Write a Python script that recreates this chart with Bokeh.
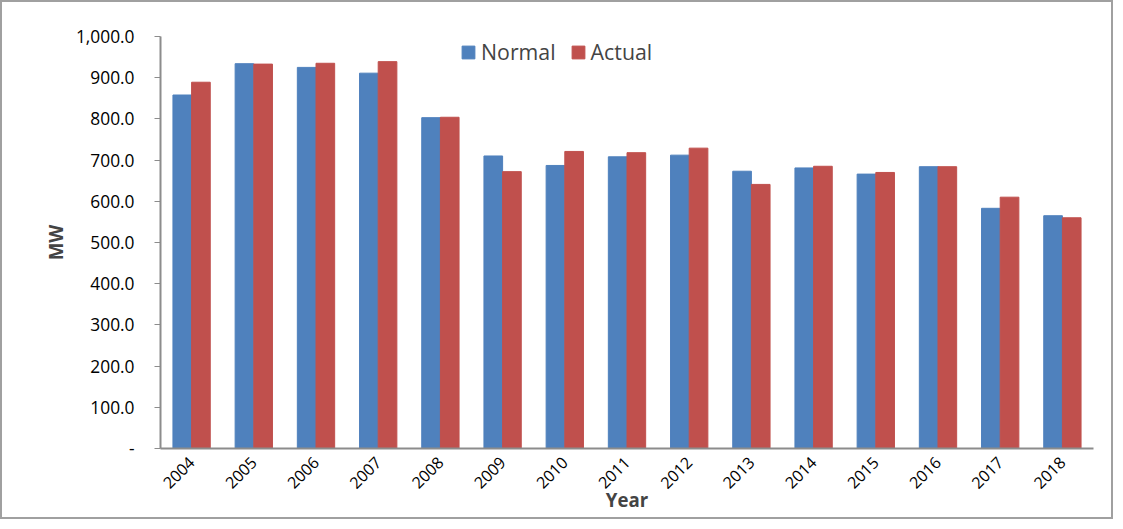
from math import pi
from bokeh.plotting import figure
from bokeh.models import ColumnDataSource, NumeralTickFormatter, Range1d, Legend
from bokeh.transform import dodge
from bokeh.embed import file_html
from bokeh.resources import INLINE

years = [str(y) for y in range(2004, 2019)]
normal = [858, 934, 925, 911, 803, 710, 687, 708, 712, 673, 681, 666, 684, 583, 565]
actual = [889, 933, 935, 939, 804, 672, 721, 718, 729, 641, 685, 670, 684, 610, 560]

src = ColumnDataSource(dict(year=years, normal=normal, actual=actual))

FONT = "Open Sans"

p = figure(x_range=years, width=1113, height=519, output_backend="svg",
           toolbar_location=None, y_range=Range1d(0, 1000),
           styles={"border": "2px solid #a0a0a0"})
p.min_border_top = 34
p.min_border_left = 158
p.min_border_right = 22
p.min_border_bottom = 73
p.outline_line_color = None
p.xgrid.grid_line_color = None
p.ygrid.grid_line_color = None
p.x_range.range_padding = 0.0

r1 = p.vbar(x=dodge("year", -0.15, range=p.x_range), top="normal", width=0.3,
            source=src, color="#4f81bd")
r2 = p.vbar(x=dodge("year", 0.15, range=p.x_range), top="actual", width=0.3,
            source=src, color="#c0504d")

legend = Legend(items=[("Normal", [r1]), ("Actual", [r2])], orientation="horizontal",
                location=(300, 382), border_line_color=None, background_fill_alpha=0,
                label_text_font=FONT, label_text_font_size="16pt",
                glyph_width=16, glyph_height=16, spacing=14, padding=0)
p.add_layout(legend, "center")

p.yaxis.ticker = list(range(0, 1001, 100))
p.yaxis.formatter = NumeralTickFormatter(format="0,0.0")
p.yaxis.major_label_overrides = {0: "-"}
p.yaxis.axis_label = "MW"
p.xaxis.axis_label = "Year"
for ax in (p.xaxis, p.yaxis):
    ax.axis_line_color = "#8c8c8c"
    ax.axis_line_width = 2
    ax.major_tick_line_color = "#8c8c8c"
    ax.minor_tick_line_color = None
    ax.major_label_text_font = FONT
    ax.major_label_text_font_size = "13pt"
    ax.major_label_text_color = "black"
    ax.axis_label_text_font = FONT
    ax.axis_label_text_font_style = "bold"
    ax.axis_label_text_font_size = "14pt"
p.yaxis.major_tick_in = 0
p.yaxis.major_tick_out = 6
p.yaxis.major_label_standoff = 20
p.xaxis.major_tick_line_color = None
p.xaxis.major_label_orientation = pi / 4
p.xaxis.major_label_text_font_size = "12pt"
p.xaxis.axis_label_standoff = -10

open("out.html", "w").write(file_html(p, INLINE))
